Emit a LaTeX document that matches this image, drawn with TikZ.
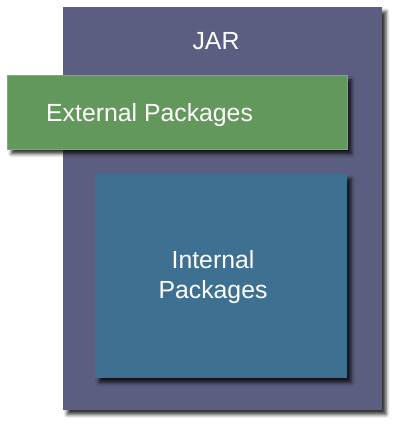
\documentclass[tikz,border=0pt]{standalone}
\usepackage{fontspec}
\setmainfont{Liberation Sans}
\usetikzlibrary{shadows.blur}
\definecolor{jarcol}{RGB}{91,94,128}
\definecolor{extcol}{RGB}{99,152,92}
\definecolor{extborder}{RGB}{120,175,110}
\definecolor{intcol}{RGB}{62,112,146}
\tikzset{
  box/.style={rectangle, anchor=north west, inner sep=0pt, outer sep=0pt,
    blur shadow={shadow xshift=4pt, shadow yshift=-4.5pt, shadow blur radius=3.5pt, shadow opacity=80}},
  lbl/.style={text=white, font=\fontsize{24.8pt}{30pt}\selectfont, inner sep=0pt}
}
\begin{document}
\begin{tikzpicture}[x=1pt,y=1pt]
\useasboundingbox (0,0) rectangle (400,-428);
\node[box, fill=jarcol, minimum width=319pt, minimum height=403pt] (jar) at (63,-7) {};
\node[box, fill=extcol, draw=extborder, line width=0.6pt, minimum width=340pt, minimum height=74pt] (ext) at (7.3,-75.3) {};
\node[box, fill=intcol, minimum width=252pt, minimum height=204pt] (int) at (95,-174) {};
\node[lbl, anchor=base] (jarl) at (216,-49) {JAR};
\node[lbl, anchor=base west] (extl) at (46,-121) {External Packages};
\node[lbl, anchor=base, align=center] (intl1) at (213,-268) {Internal};
\node[lbl, anchor=base, align=center] (intl2) at (213,-298) {Packages};
\end{tikzpicture}
\end{document}
